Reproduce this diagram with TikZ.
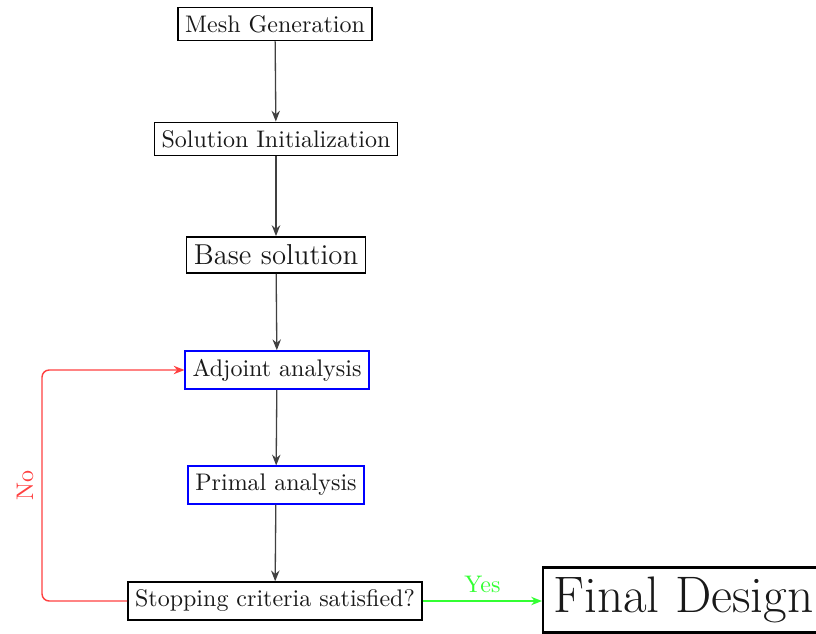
\documentclass[tikz,border=0pt]{standalone}
\usetikzlibrary{arrows.meta}
\begin{document}
\begin{tikzpicture}[x=0.4167pt,y=-0.4167pt,
  box/.style={draw=black, line width=0.7pt, inner xsep=3pt, inner ysep=3.3pt, text=black!90},
  bluebox/.style={box, draw=blue},
  flow/.style={-{Stealth[length=4.5pt,width=3.5pt]}, draw=black!75, line width=0.55pt},
  font=\fontsize{10}{12}\selectfont]
\useasboundingbox (0,0) rectangle (816,633);
\node[box] (mesh) at (275,24) {Mesh Generation};
\node[box] (init) at (276,139) {Solution Initialization};
\node[box,font=\large] (base) at (276,255) {Base solution};
\node[bluebox] (adj) at (277,370) {Adjoint analysis};
\node[bluebox] (prim) at (276,485) {Primal analysis};
\node[box] (stop) at (275,601) {Stopping criteria satisfied?};
\node[box,font=\fontsize{21.4}{26}\selectfont,anchor=west,line width=1pt,inner ysep=4pt,inner xsep=4.2pt] (final) at (542,600) {Final Design};
\draw[flow] (mesh) -- (init);
\draw[flow] (init) -- (base);
\draw[flow] (base) -- (adj);
\draw[flow] (adj) -- (prim);
\draw[flow] (prim) -- (stop);
\draw[-{Stealth[length=4.5pt,width=3.5pt]}, draw=red!75, line width=0.6pt, rounded corners=3pt]
  (stop.west) -- (42,601) -- node[pos=0.5, rotate=90, above, text=red!75] {No} (42,370) -- (adj.west);
\draw[-{Stealth[length=4.5pt,width=3.5pt]}, draw=green!80, line width=0.6pt]
  (stop.east) -- node[above, text=green!80] {Yes} (final.west |- stop.east);
\end{tikzpicture}
\end{document}
